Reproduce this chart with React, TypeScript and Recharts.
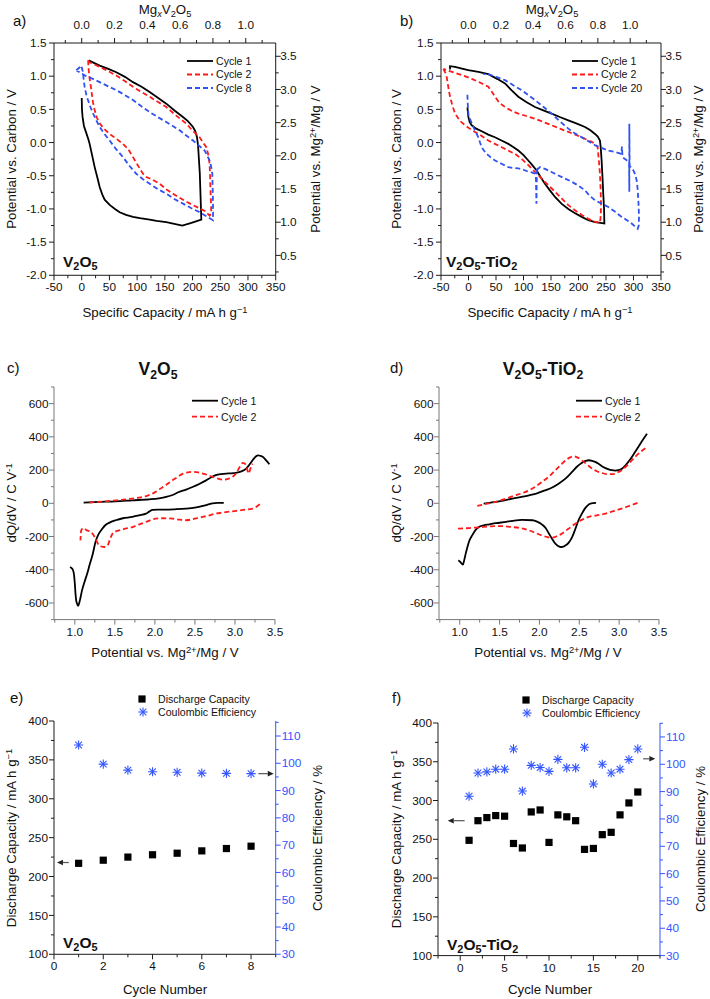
import React from 'react';
import { LineChart, Line, XAxis, YAxis, ComposedChart, Scatter, ReferenceLine } from 'recharts';

type Pt = { x: number; y: number };
const toPts = (a: number[][]): Pt[] => a.map(([x, y]) => ({ x, y }));
const zipPts = (xs: number[], ys: number[]): Pt[] => xs.map((x, i) => ({ x, y: ys[i] }));

// ---------- Panel a: V2O5 (capacity mA h/g, potential vs carbon V) ----------
const aCycle1 = toPts([[0,0.67],[0.5,0.5],[1.5,0.39],[4,0.25],[8,0.15],[12,0.05],[14.3,-0.02],[19,-0.2],[23.4,-0.37],[28,-0.52],[32.4,-0.67],[37,-0.78],[41.4,-0.86],[50.4,-0.94],[60,-1.0],[68.5,-1.05],[80,-1.09],[92.5,-1.12],[105,-1.14],[122.6,-1.16],[135,-1.18],[152.6,-1.2],[165,-1.22],[181.5,-1.25],[198,-1.21],[215.8,-1.16],[215,-0.95],[214,-0.7],[213,-0.45],[211.6,-0.27],[210,-0.05],[208,0.08],[205,0.17],[200.8,0.235],[192,0.32],[182.7,0.385],[168,0.48],[152.6,0.586],[138,0.67],[122.6,0.762],[108,0.84],[92.5,0.91],[78,0.99],[62.4,1.06],[48,1.11],[32.4,1.16],[22,1.2],[14.3,1.23],[13,1.24]]);
const aCycle2 = toPts([[11.5,1.24],[12.5,1.1],[14,0.98],[15.5,0.9],[18,0.75],[20.5,0.6],[23.4,0.49],[27,0.38],[32.4,0.29],[40,0.21],[50.4,0.13],[62,0.06],[74.5,-0.02],[84,-0.1],[92.5,-0.22],[101,-0.34],[110.6,-0.47],[116.6,-0.52],[128,-0.56],[140.6,-0.62],[152,-0.7],[164.7,-0.77],[176,-0.83],[188.7,-0.89],[200,-0.94],[212.8,-0.99],[222,-1.03],[230.8,-1.1],[233.8,-1.07],[233.5,-0.95],[232.6,-0.77],[231.8,-0.55],[230.8,-0.32],[228,-0.17],[224.8,-0.07],[219,0.0],[212.8,0.08],[200,0.18],[188.7,0.285],[170,0.41],[152.6,0.536],[137,0.615],[122.6,0.69],[107,0.765],[92.5,0.84],[77,0.93],[62.4,1.01],[47,1.08],[32.4,1.14],[22,1.18],[14.3,1.21],[11.5,1.24]]);
const aCycle8 = toPts([[-9.7,1.09],[-4,1.13],[-1,1.16],[0.5,1.12],[2.3,1.06],[3.5,0.95],[5.3,0.84],[8,0.73],[11.3,0.64],[15.5,0.54],[20.4,0.44],[26,0.34],[32.4,0.235],[41,0.13],[50.4,0.03],[62,-0.1],[74.5,-0.22],[86,-0.35],[98.5,-0.47],[110,-0.55],[122.6,-0.62],[137,-0.7],[152.6,-0.77],[167,-0.85],[182.7,-0.92],[198,-0.99],[212.8,-1.05],[225,-1.11],[236.8,-1.17],[237,-1.05],[236.8,-0.87],[236.2,-0.65],[235.6,-0.47],[233.5,-0.36],[230.8,-0.27],[226,-0.19],[221.8,-0.12],[212,-0.05],[200.8,0.03],[188,0.11],[176.7,0.185],[165,0.245],[152.6,0.31],[137,0.385],[122.6,0.46],[107,0.55],[92.5,0.64],[77,0.72],[62.4,0.79],[47,0.85],[32.4,0.91],[20,0.96],[8.3,1.0],[0,1.04],[-9.7,1.09]]);

// ---------- Panel b: V2O5-TiO2 ----------
const bCycle1 = toPts([[-2,0.53],[-1,0.45],[-0.3,0.39],[2,0.31],[5.8,0.26],[14,0.21],[24,0.17],[36,0.12],[48,0.08],[60,0.03],[72.4,-0.02],[82,-0.07],[90.6,-0.12],[100,-0.19],[108.8,-0.27],[116,-0.34],[123.9,-0.42],[131,-0.52],[139,-0.62],[148,-0.72],[157.3,-0.82],[169,-0.92],[181.5,-1.0],[193,-1.06],[205.8,-1.12],[218,-1.17],[230,-1.2],[240,-1.21],[247,-1.22],[246.5,-1.0],[245,-0.77],[243.5,-0.5],[242,-0.27],[240.5,-0.08],[239,0.03],[235,0.09],[230,0.13],[221,0.19],[211.8,0.235],[197,0.285],[181.5,0.335],[166,0.385],[151.2,0.436],[136,0.485],[120.9,0.536],[105,0.61],[90.6,0.69],[78,0.79],[66.4,0.89],[52,0.96],[36.1,1.03],[18,1.065],[-0.3,1.09],[-12,1.115],[-24.5,1.14],[-33.6,1.15],[-33.6,1.1]]);
const bCycle2 = toPts([[-45.8,1.11],[-42,1.05],[-39.7,0.99],[-37,0.85],[-33.6,0.69],[-29,0.55],[-24.5,0.44],[-16,0.33],[-6.4,0.26],[2,0.21],[11.8,0.16],[24,0.1],[36,0.03],[48,-0.02],[60.3,-0.07],[72,-0.12],[84.5,-0.17],[97,-0.25],[108.8,-0.34],[118,-0.42],[127,-0.49],[136,-0.57],[145,-0.64],[157,-0.74],[169.3,-0.84],[181,-0.94],[193.6,-1.02],[206,-1.09],[217.9,-1.15],[229,-1.19],[239,-1.21],[240.5,-1.1],[240.9,-0.92],[240.2,-0.7],[239,-0.47],[237,-0.27],[234.8,-0.07],[230,-0.02],[224,0.01],[215,0.045],[205.8,0.08],[194,0.12],[181.5,0.16],[166,0.21],[151.2,0.26],[136,0.31],[120.9,0.36],[105,0.4],[90.6,0.436],[78,0.48],[66.4,0.536],[56,0.6],[48.2,0.69],[42,0.77],[36.1,0.84],[22,0.9],[5.8,0.96],[-10,1.01],[-24.5,1.05],[-36,1.08],[-45.8,1.11]]);
const bCycle20 = toPts([[-2,0.72],[-1.5,0.6],[-0.8,0.5],[0,0.42],[4,0.33],[8.8,0.235],[13,0.16],[17.9,0.08],[21,0.0],[24,-0.07],[28,-0.12],[33,-0.17],[40,-0.22],[48.2,-0.27],[60,-0.32],[72.4,-0.37],[82,-0.385],[90.6,-0.39],[100,-0.41],[108.8,-0.44],[115,-0.45],[120.9,-0.47],[122.5,-0.5],[123.5,-0.92],[124,-0.6],[124.5,-0.37],[126,-0.4],[130,-0.37],[140,-0.4],[150,-0.44],[157.3,-0.47],[172,-0.53],[187.6,-0.59],[200,-0.65],[211.8,-0.72],[220,-0.8],[230,-0.87],[242,-0.92],[254.2,-0.97],[266,-1.04],[278.5,-1.12],[288,-1.17],[296.7,-1.22],[302,-1.26],[307.6,-1.3],[309.5,-1.25],[310,-1.12],[309,-0.9],[307.5,-0.7],[305.8,-0.57],[303,-0.48],[299.8,-0.42],[296,-0.38],[293,-0.35],[292.4,0.285],[292.4,-0.74],[292,-0.3],[285,-0.25],[280,-0.22],[279,-0.06],[278,-0.17],[266,-0.14],[254.2,-0.12],[242,-0.08],[230,-0.04],[218,0.02],[205.8,0.08],[193,0.14],[181.5,0.21],[166,0.32],[151.2,0.436],[136,0.54],[120.9,0.64],[108,0.72],[96.7,0.79],[82,0.86],[66.4,0.94],[50,0.99],[36,1.03],[27,1.03]]);

// ---------- Panel c: dQ/dV V2O5 ----------
const cCycle1Chg = toPts([[1.11,4],[1.3,8],[1.51,12],[1.72,18],[1.93,24],[2.05,30],[2.14,38],[2.22,50],[2.3,68],[2.39,82],[2.47,98],[2.56,118],[2.64,138],[2.7,155],[2.76,169],[2.83,176],[2.89,179],[2.95,180],[3.01,183],[3.08,192],[3.14,209],[3.18,232],[3.22,259],[3.26,282],[3.29,289],[3.32,285],[3.35,279],[3.39,258],[3.43,235]]);
const cCycle1Dis = toPts([[2.86,2],[2.78,2],[2.72,0],[2.66,-8],[2.6,-16],[2.5,-26],[2.39,-32],[2.25,-36],[2.14,-38],[2.04,-38],[1.97,-40],[1.93,-50],[1.89,-62],[1.8,-72],[1.72,-82],[1.6,-90],[1.51,-102],[1.44,-115],[1.38,-132],[1.34,-155],[1.3,-183],[1.26,-230],[1.22,-313],[1.185,-370],[1.155,-423],[1.12,-475],[1.09,-524],[1.07,-570],[1.055,-600],[1.04,-618],[1.025,-600],[1.017,-584],[1.008,-540],[1.0,-483],[0.99,-430],[0.975,-400],[0.96,-390],[0.94,-383]]);
const cCycle2Chg = toPts([[1.18,4],[1.38,12],[1.52,18],[1.64,24],[1.75,30],[1.84,38],[1.91,46],[1.97,58],[2.04,78],[2.1,98],[2.16,118],[2.22,138],[2.29,160],[2.35,179],[2.41,186],[2.47,189],[2.54,186],[2.6,179],[2.66,170],[2.72,159],[2.78,150],[2.85,142],[2.91,147],[2.97,159],[3.02,185],[3.06,219],[3.1,243],[3.14,229],[3.17,179],[3.2,219],[3.22,239]]);
const cCycle2Dis = toPts([[3.31,-6],[3.22,-32],[3.1,-40],[2.97,-48],[2.86,-55],[2.76,-62],[2.66,-75],[2.56,-86],[2.47,-96],[2.39,-102],[2.3,-98],[2.22,-92],[2.1,-90],[2.01,-92],[1.95,-100],[1.89,-112],[1.8,-128],[1.72,-143],[1.63,-153],[1.55,-163],[1.5,-172],[1.47,-183],[1.44,-215],[1.41,-253],[1.37,-263],[1.33,-260],[1.3,-253],[1.26,-213],[1.22,-183],[1.19,-170],[1.15,-163],[1.11,-149],[1.09,-155],[1.08,-163],[1.07,-223]]);

// ---------- Panel d: dQ/dV V2O5-TiO2 ----------
const dCycle1Chg = toPts([[1.3,-2],[1.45,8],[1.66,28],[1.87,48],[1.97,60],[2.07,78],[2.16,95],[2.24,118],[2.33,150],[2.41,189],[2.47,220],[2.53,243],[2.58,255],[2.62,259],[2.66,256],[2.7,249],[2.75,235],[2.8,219],[2.86,206],[2.91,199],[2.95,197],[2.99,199],[3.04,210],[3.08,229],[3.14,265],[3.2,309],[3.27,362],[3.35,419]]);
const dCycle1Dis = toPts([[2.71,2],[2.64,-2],[2.6,-15],[2.57,-32],[2.53,-65],[2.49,-102],[2.45,-155],[2.41,-203],[2.37,-235],[2.33,-253],[2.29,-262],[2.26,-263],[2.23,-255],[2.2,-243],[2.16,-215],[2.12,-183],[2.08,-150],[2.03,-127],[1.97,-110],[1.91,-102],[1.78,-100],[1.66,-106],[1.58,-112],[1.45,-120],[1.37,-127],[1.3,-133],[1.24,-143],[1.2,-160],[1.16,-190],[1.117,-230],[1.09,-275],[1.075,-303],[1.055,-345],[1.04,-369],[1.01,-355],[0.983,-343]]);
const dCycle2Chg = toPts([[1.22,-16],[1.33,-4],[1.45,8],[1.58,28],[1.7,48],[1.79,62],[1.87,78],[1.95,100],[2.03,128],[2.12,162],[2.2,199],[2.27,232],[2.33,259],[2.38,275],[2.43,283],[2.48,275],[2.53,259],[2.6,232],[2.66,209],[2.72,193],[2.78,183],[2.85,176],[2.91,175],[2.97,184],[3.03,199],[3.1,228],[3.2,279],[3.27,310],[3.35,339]]);
const dCycle2Dis = toPts([[3.23,2],[3.13,-15],[3.03,-32],[2.93,-47],[2.83,-62],[2.72,-72],[2.62,-82],[2.53,-100],[2.45,-123],[2.36,-155],[2.28,-183],[2.22,-198],[2.16,-207],[2.1,-203],[2.03,-193],[1.95,-178],[1.87,-163],[1.77,-150],[1.66,-143],[1.55,-138],[1.45,-137],[1.36,-140],[1.28,-143],[1.2,-146],[1.12,-149],[0.97,-153]]);

// ---------- Panel e / f: cycling ----------
const eCycles = [1, 2, 3, 4, 5, 6, 7, 8];
const eCapacity = [217, 221, 225, 228, 230, 233, 236, 239];
const eCE = [106.7, 99.7, 97.5, 96.9, 96.7, 96.4, 96.3, 96.2];
const fCycles = [1, 2, 3, 4, 5, 6, 7, 8, 9, 10, 11, 12, 13, 14, 15, 16, 17, 18, 19, 20];
const fCapacity = [248.7, 274, 278, 280.6, 279.8, 244.6, 238.8, 285.3, 287.8, 246, 281.5, 279, 274, 237, 238.2, 256, 259, 281.5, 296.9, 311];
const fCE = [88.3, 96.8, 97.2, 98.2, 98.2, 105.6, 90.2, 99.6, 98.8, 97.4, 101.8, 98.7, 98.7, 106.2, 92.8, 100, 96.8, 98.2, 101.7, 105.6];

// ---------- Tick values ----------
const capTicks = [-50, -25, 0, 25, 50, 75, 100, 125, 150, 175, 200, 225, 250, 275, 300, 325, 350];
const potTicks = [-2, -1.75, -1.5, -1.25, -1, -0.75, -0.5, -0.25, 0, 0.25, 0.5, 0.75, 1, 1.25, 1.5];
const mgxTicks = [-0.1, 0, 0.1, 0.2, 0.3, 0.4, 0.5, 0.6, 0.7, 0.8, 0.9, 1.0, 1.1];
const mgPotTicks = [0.25, 0.5, 0.75, 1, 1.25, 1.5, 1.75, 2, 2.25, 2.5, 2.75, 3, 3.25, 3.5];
const dqdvXTicks = [0.75, 1, 1.25, 1.5, 1.75, 2, 2.25, 2.5, 2.75, 3, 3.25, 3.5];
const dqdvYTicks = [-700, -600, -500, -400, -300, -200, -100, 0, 100, 200, 300, 400, 500, 600, 700];
const eXTicks = [0, 1, 2, 3, 4, 5, 6, 7, 8, 9];
const fXTicks = [-2.5, 0, 2.5, 5, 7.5, 10, 12.5, 15, 17.5, 20, 22.5];
const capYTicks = [100, 125, 150, 175, 200, 225, 250, 275, 300, 325, 350, 375, 400];
const ceTicks = [30, 35, 40, 45, 50, 55, 60, 65, 70, 75, 80, 85, 90, 95, 100, 105, 110, 115];

// annotation arrows (data coordinates)
const eArrowCap = [{ x: 0.6, y: 218 }, { x: 0.12, y: 218 }];
const eArrowCE = [{ x: 8.3, y: 96.2 }, { x: 8.92, y: 96.2 }];
const fArrowCap = [{ x: 0.5, y: 274 }, { x: -1.4, y: 274 }];
const fArrowCE = [{ x: 20.6, y: 102 }, { x: 21.97, y: 102 }];

// ---------- styling ----------
const FONT = '"Liberation Sans", Arial, sans-serif';
const AX = '#1a1a1a';
const AXC = '#777';
const RED = '#ff1a1a';
const BLUE = '#2f52f0';
const AXBLUE = '#3355ff';
const DASH = '5 3';

type Plot = { x0: number; y0: number; x1: number; y1: number };
const PA: Plot = { x0: 54.3, y0: 42.7, x1: 276, y1: 275 };
const PB: Plot = { x0: 441, y0: 42.7, x1: 661, y1: 275 };
const PC: Plot = { x0: 54.3, y0: 386.7, x1: 275.3, y1: 619.3 };
const PD: Plot = { x0: 439, y0: 386.7, x1: 659, y1: 619.3 };
const PE: Plot = { x0: 54.3, y0: 721, x1: 276, y1: 954.3 };
const PF: Plot = { x0: 438.3, y0: 722.7, x1: 660.3, y1: 955.3 };

const AXW = 45, AXH = 30, PAD = 2, EXTRA = 20;
function frame(p: Plot, hasR: boolean, hasT: boolean) {
  const L = AXW, R = hasR ? AXW : EXTRA, T = hasT ? AXH : EXTRA, B = AXH;
  return {
    left: p.x0 - L - PAD,
    top: p.y0 - T - PAD,
    width: p.x1 - p.x0 + L + R + 2 * PAD,
    height: p.y1 - p.y0 + T + B + 2 * PAD,
    margin: { left: PAD, right: PAD + (hasR ? 0 : R), top: PAD + (hasT ? 0 : T), bottom: PAD },
  };
}

function mkTick(side: string, step: number, digits: number, color: string, lineColor: string, off = 6.5) {
  return (props: any) => {
    const { x, y, payload } = props;
    const v = Number(payload.value);
    const r = v / step;
    const major = Math.abs(r - Math.round(r)) < 1e-6;
    const len = major ? 5 : 3;
    const label = v.toFixed(digits);
    const fs = 11.8;
    const tp = { fontSize: fs, fill: color, fontFamily: FONT };
    if (side === 'bottom')
      return (<g><line x1={x} y1={y} x2={x} y2={y + len} stroke={lineColor} />{major && <text x={x} y={y + 16} textAnchor="middle" {...tp}>{label}</text>}</g>);
    if (side === 'top')
      return (<g><line x1={x} y1={y} x2={x} y2={y - len} stroke={lineColor} />{major && <text x={x} y={y - 13.5} textAnchor="middle" {...tp}>{label}</text>}</g>);
    if (side === 'left')
      return (<g><line x1={x - len} y1={y} x2={x} y2={y} stroke={lineColor} />{major && <text x={x - off} y={y + 4.2} textAnchor="end" {...tp}>{label}</text>}</g>);
    return (<g><line x1={x} y1={y} x2={x + len} y2={y} stroke={lineColor} />{major && <text x={x + off} y={y + 4.2} textAnchor="start" {...tp}>{label}</text>}</g>);
  };
}

const axBase = { type: 'number' as const, allowDataOverflow: true, interval: 0 as const, tickSize: 0, tickMargin: 0, tickLine: false };

const arrowShape = (p: any) => {
  const { x1, y1, x2, y2 } = p;
  const dir = x2 >= x1 ? 1 : -1;
  const hl = 6, hw = 2.8;
  return (
    <g>
      <line x1={x1} y1={y1} x2={x2 - dir * hl} y2={y2} stroke="#555" strokeWidth={1.2} />
      <polygon points={`${x2},${y2} ${x2 - dir * hl},${y2 - hw} ${x2 - dir * hl},${y2 + hw}`} fill="#222" />
    </g>
  );
};

const SquareShape = (p: any) => <rect x={p.cx - 3.6} y={p.cy - 3.6} width={7.2} height={7.2} fill="#000" />;
const StarShape = (p: any) => {
  const { cx, cy } = p;
  const r = 4.6, d = r * 0.72;
  return (
    <g stroke={AXBLUE} strokeWidth={1.1}>
      <line x1={cx - r} y1={cy} x2={cx + r} y2={cy} />
      <line x1={cx} y1={cy - r} x2={cx} y2={cy + r} />
      <line x1={cx - d} y1={cy - d} x2={cx + d} y2={cy + d} />
      <line x1={cx - d} y1={cy + d} x2={cx + d} y2={cy - d} />
    </g>
  );
};

type Series = { name: string; data: Pt[]; color: string; dash?: string; legend?: boolean };

function GalvChart({ p, series, mgPerUnit }: { p: Plot; series: Series[]; mgPerUnit: number }) {
  const f = frame(p, true, true);
  return (
    <div style={{ position: 'absolute', left: f.left, top: f.top }}>
      <LineChart width={f.width} height={f.height} margin={f.margin}>
        <XAxis {...axBase} dataKey="x" domain={[-50, 350]} ticks={capTicks} height={AXH} axisLine={{ stroke: AX }} tick={mkTick('bottom', 50, 0, '#111', AX)} />
        <XAxis {...axBase} dataKey="x" xAxisId="top" orientation="top" domain={[-50 / mgPerUnit, 350 / mgPerUnit]} ticks={mgxTicks} height={AXH} axisLine={{ stroke: AX }} tick={mkTick('top', 0.2, 1, '#111', AX)} />
        <YAxis {...axBase} dataKey="y" domain={[-2, 1.5]} ticks={potTicks} width={AXW} axisLine={{ stroke: AX }} tick={mkTick('left', 0.5, 1, '#111', AX, 7.5)} />
        <YAxis {...axBase} dataKey="y" yAxisId="right" orientation="right" domain={[0.2, 3.7]} ticks={mgPotTicks} width={AXW} axisLine={{ stroke: AX }} tick={mkTick('right', 0.5, 1, '#111', AX, 4.5)} />
        {series.map((s, i) => (
          <Line key={i} data={s.data} dataKey="y" type="linear" stroke={s.color} strokeWidth={1.8} strokeDasharray={s.dash} dot={false} activeDot={false} isAnimationActive={false} />
        ))}
      </LineChart>
    </div>
  );
}

function DqdvChart({ p, series }: { p: Plot; series: Series[] }) {
  const f = frame(p, false, false);
  return (
    <div style={{ position: 'absolute', left: f.left, top: f.top }}>
      <LineChart width={f.width} height={f.height} margin={f.margin}>
        <XAxis {...axBase} dataKey="x" domain={[0.74, 3.5]} ticks={dqdvXTicks} height={AXH} axisLine={{ stroke: AXC }} tick={mkTick('bottom', 0.5, 1, '#111', AXC)} />
        <YAxis {...axBase} dataKey="y" domain={[-700, 700]} ticks={dqdvYTicks} width={AXW} axisLine={{ stroke: AXC }} tick={mkTick('left', 200, 0, '#111', AXC, 5.5)} />
        {series.map((s, i) => (
          <Line key={i} data={s.data} dataKey="y" type="monotone" stroke={s.color} strokeWidth={1.8} strokeDasharray={s.dash} dot={false} activeDot={false} isAnimationActive={false} />
        ))}
      </LineChart>
    </div>
  );
}

function CycleChart({ p, cap, ce, xDomain, xTicks, xStep, ceMax, arrowCap, arrowCE }: any) {
  const f = frame(p, true, false);
  return (
    <div style={{ position: 'absolute', left: f.left, top: f.top }}>
      <ComposedChart width={f.width} height={f.height} margin={f.margin}>
        <XAxis {...axBase} dataKey="x" domain={xDomain} ticks={xTicks} height={AXH} axisLine={{ stroke: AX }} tick={mkTick('bottom', xStep, 0, '#111', AX)} />
        <YAxis {...axBase} dataKey="y" domain={[100, 400]} ticks={capYTicks} width={AXW} axisLine={{ stroke: AX }} tick={mkTick('left', 50, 0, '#111', AX, 6)} />
        <YAxis {...axBase} yAxisId="right" dataKey="y" orientation="right" domain={[30, ceMax]} ticks={ceTicks} width={AXW} axisLine={{ stroke: AXBLUE }} tick={mkTick('right', 10, 0, AXBLUE, AXBLUE, 6)} />
        <Scatter data={cap} shape={SquareShape} isAnimationActive={false} />
        <Scatter data={ce} yAxisId="right" shape={StarShape} isAnimationActive={false} />
        <ReferenceLine segment={arrowCap} shape={arrowShape} ifOverflow="visible" />
        <ReferenceLine segment={arrowCE} yAxisId="right" shape={arrowShape} ifOverflow="visible" />
      </ComposedChart>
    </div>
  );
}

const Sub = ({ children, it }: any) => <sub style={{ fontSize: '0.7em', verticalAlign: '-0.28em', lineHeight: 0, fontStyle: it ? 'italic' : 'normal' }}>{children}</sub>;
const Sup = ({ children }: any) => <sup style={{ fontSize: '0.7em', verticalAlign: '0.5em', lineHeight: 0 }}>{children}</sup>;

function T({ x, y, rot, size = 13.3, bold, anchor = 'middle', color = '#111', children }: any) {
  const tx = anchor === 'middle' ? '-50%' : '0';
  return (
    <div style={{ position: 'absolute', left: x, top: y, transform: `translate(${tx}, -50%)${rot ? ` rotate(${rot}deg)` : ''}`, whiteSpace: 'nowrap', fontSize: size, fontWeight: bold ? 700 : 400, color, lineHeight: 1, fontFamily: FONT }}>
      {children}
    </div>
  );
}

const V2O5 = () => <>V<Sub>2</Sub>O<Sub>5</Sub></>;
const V2O5TiO2 = () => <>V<Sub>2</Sub>O<Sub>5</Sub>-TiO<Sub>2</Sub></>;
const MgxV2O5 = () => <>Mg<Sub it>x</Sub>V<Sub>2</Sub>O<Sub>5</Sub></>;
const PotMg = () => <>Potential vs. Mg<Sup>2+</Sup>/Mg / V</>;
const SpecCap = () => <>Specific Capacity / mA h g<Sup>−1</Sup></>;
const DisCap = () => <>Discharge Capacity / mA h g<Sup>−1</Sup></>;

const aSeries: Series[] = [
  { name: 'Cycle 1', data: aCycle1, color: '#000' },
  { name: 'Cycle 2', data: aCycle2, color: RED, dash: DASH },
  { name: 'Cycle 8', data: aCycle8, color: BLUE, dash: DASH },
];
const bSeries: Series[] = [
  { name: 'Cycle 1', data: bCycle1, color: '#000' },
  { name: 'Cycle 2', data: bCycle2, color: RED, dash: DASH },
  { name: 'Cycle 20', data: bCycle20, color: BLUE, dash: DASH },
];
const cSeries: Series[] = [
  { name: 'Cycle 1', data: cCycle1Dis, color: '#000', legend: true },
  { name: 'Cycle 1', data: cCycle1Chg, color: '#000' },
  { name: 'Cycle 2', data: cCycle2Dis, color: RED, dash: DASH, legend: true },
  { name: 'Cycle 2', data: cCycle2Chg, color: RED, dash: DASH },
];
const dSeries: Series[] = [
  { name: 'Cycle 1', data: dCycle1Dis, color: '#000', legend: true },
  { name: 'Cycle 1', data: dCycle1Chg, color: '#000' },
  { name: 'Cycle 2', data: dCycle2Dis, color: RED, dash: DASH, legend: true },
  { name: 'Cycle 2', data: dCycle2Chg, color: RED, dash: DASH },
];

function LineLegend({ x, y, items, gap }: { x: number; y: number; items: Series[]; gap: number }) {
  return (
    <g>
      {items.map((s, i) => (
        <g key={i}>
          <line x1={x} y1={y + i * gap} x2={x + 26} y2={y + i * gap} stroke={s.color} strokeWidth={1.8} strokeDasharray={s.dash} />
          <text x={x + 29} y={y + i * gap + 3.8} fontSize={10.6} fontFamily={FONT} fill="#111">{s.name}</text>
        </g>
      ))}
    </g>
  );
}

function MarkLegend({ x, y }: { x: number; y: number }) {
  return (
    <g>
      <SquareShape cx={x} cy={y} />
      <text x={x + 16} y={y + 3.8} fontSize={10.6} fontFamily={FONT} fill="#111">Discharge Capacity</text>
      <StarShape cx={x + 1} cy={y + 13} />
      <text x={x + 16} y={y + 16.8} fontSize={10.6} fontFamily={FONT} fill="#111">Coulombic Efficiency</text>
    </g>
  );
}

export default function App() {
  return (
    <div style={{ position: 'absolute', left: 0, top: 0, width: 710, height: 999, background: '#fff', fontFamily: FONT, overflow: 'hidden' }}>
      <GalvChart p={PA} series={aSeries} mgPerUnit={296} />
      <GalvChart p={PB} series={bSeries} mgPerUnit={294} />
      <DqdvChart p={PC} series={cSeries} />
      <DqdvChart p={PD} series={dSeries} />
      <CycleChart p={PE} cap={zipPts(eCycles, eCapacity)} ce={zipPts(eCycles, eCE)} xDomain={[0, 9]} xTicks={eXTicks} xStep={2} ceMax={115.5} arrowCap={eArrowCap} arrowCE={eArrowCE} />
      <CycleChart p={PF} cap={zipPts(fCycles, fCapacity)} ce={zipPts(fCycles, fCE)} xDomain={[-2.5, 22.5]} xTicks={fXTicks} xStep={5} ceMax={115.1} arrowCap={fArrowCap} arrowCE={fArrowCE} />

      <svg width={710} height={999} style={{ position: 'absolute', left: 0, top: 0, pointerEvents: 'none' }}>
        <LineLegend x={187} y={61} items={aSeries} gap={13.5} />
        <LineLegend x={572} y={61} items={bSeries} gap={13.5} />
        <LineLegend x={192} y={400.7} items={cSeries.filter((s) => s.legend)} gap={16} />
        <LineLegend x={576} y={400.7} items={dSeries.filter((s) => s.legend)} gap={16} />
        <MarkLegend x={142} y={699} />
        <MarkLegend x={526} y={700} />
      </svg>

      {/* panel a */}
      <T x={13} y={20} size={15} anchor="start">a)</T>
      <T x={165} y={10}><MgxV2O5 /></T>
      <T x={12} y={159} rot={-90}>Potential vs. Carbon / V</T>
      <T x={316} y={159} rot={-90}><PotMg /></T>
      <T x={165} y={313}><SpecCap /></T>
      <T x={63} y={262} size={15.5} bold anchor="start"><V2O5 /></T>

      {/* panel b */}
      <T x={400} y={20} size={15} anchor="start">b)</T>
      <T x={552} y={10}><MgxV2O5 /></T>
      <T x={397} y={159} rot={-90}>Potential vs. Carbon / V</T>
      <T x={699} y={159} rot={-90}><PotMg /></T>
      <T x={550} y={313}><SpecCap /></T>
      <T x={446} y={262} size={15.5} bold anchor="start"><V2O5TiO2 /></T>

      {/* panel c */}
      <T x={7} y={367} size={15} anchor="start">c)</T>
      <T x={158} y={370} size={17.5} bold><V2O5 /></T>
      <T x={12} y={503} rot={-90}>dQ/dV / C V<Sup>-1</Sup></T>
      <T x={165} y={653}><PotMg /></T>

      {/* panel d */}
      <T x={390} y={367} size={15} anchor="start">d)</T>
      <T x={543} y={370} size={17.5} bold><V2O5TiO2 /></T>
      <T x={397} y={503} rot={-90}>dQ/dV / C V<Sup>-1</Sup></T>
      <T x={548} y={653}><PotMg /></T>

      {/* panel e */}
      <T x={10} y={697} size={15} anchor="start">e)</T>
      <T x={12} y={838} rot={-90}><DisCap /></T>
      <T x={318} y={838} rot={-90}>Coulombic Efficiency / %</T>
      <T x={165} y={990}>Cycle Number</T>
      <T x={63} y={943} size={15.5} bold anchor="start"><V2O5 /></T>

      {/* panel f */}
      <T x={392} y={697} size={15} anchor="start">f)</T>
      <T x={397} y={839} rot={-90}><DisCap /></T>
      <T x={701} y={839} rot={-90}>Coulombic Efficiency / %</T>
      <T x={550} y={990}>Cycle Number</T>
      <T x={447} y={945} size={15.5} bold anchor="start"><V2O5TiO2 /></T>
    </div>
  );
}
